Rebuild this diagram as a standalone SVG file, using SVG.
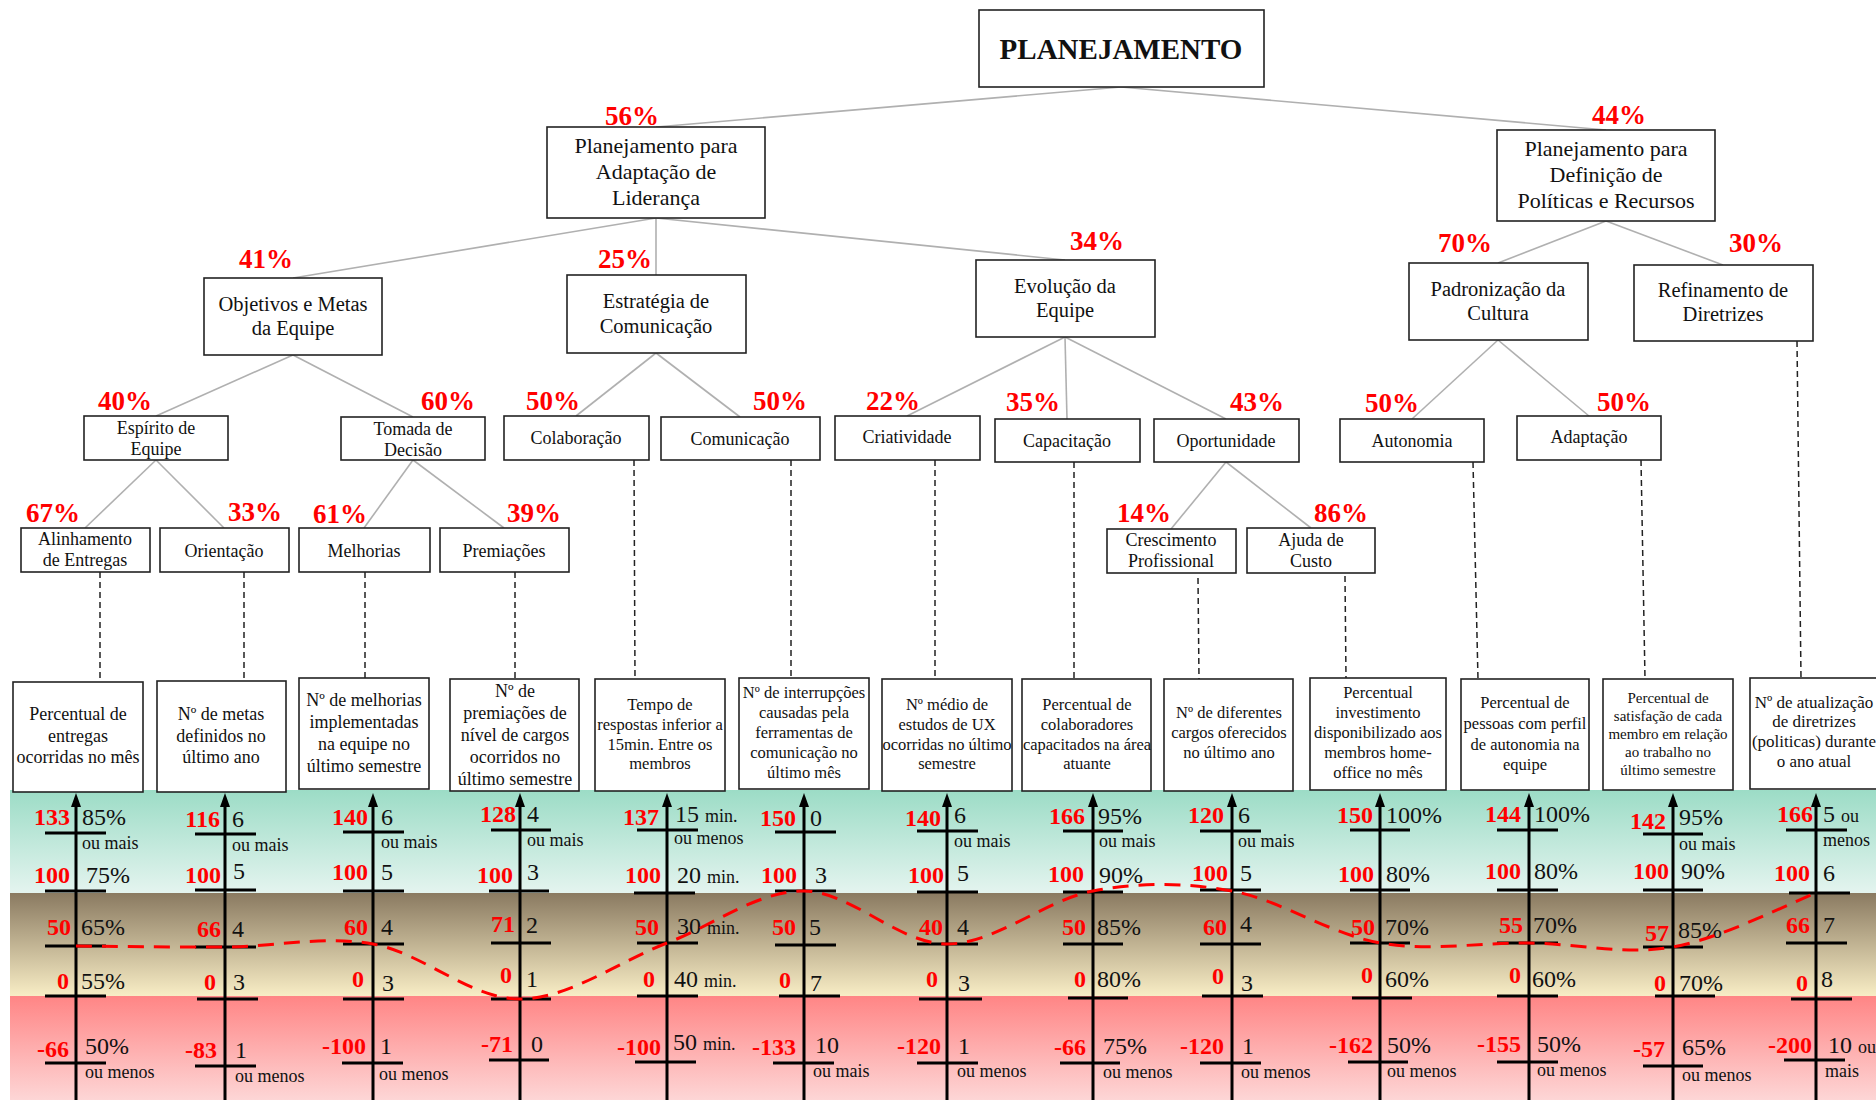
<svg xmlns="http://www.w3.org/2000/svg" width="1876" height="1100" viewBox="0 0 1876 1100">
<defs>
<linearGradient id="gG" x1="0" y1="0" x2="0" y2="1"><stop offset="0" stop-color="#9cdcc6"/><stop offset="1" stop-color="#e4f4ef"/></linearGradient>
<linearGradient id="gB" x1="0" y1="0" x2="0" y2="1"><stop offset="0" stop-color="#8a7a61"/><stop offset="1" stop-color="#f8edc5"/></linearGradient>
<linearGradient id="gR" x1="0" y1="0" x2="0" y2="1"><stop offset="0" stop-color="#ff8585"/><stop offset="1" stop-color="#fdd6d6"/></linearGradient>
<style>
.box{fill:#fff;stroke:#222;stroke-width:1.6}
.t{font-family:"Liberation Serif","Times New Roman",serif;fill:#111;text-anchor:middle}
.t22{font-size:22px}.t20{font-size:20.5px}.t18{font-size:18px}.t17{font-size:17px}.t16{font-size:16.5px}.t15{font-size:15px}
.pct{font-family:"Liberation Serif","Times New Roman",serif;font-weight:bold;fill:#ff0000;font-size:27px}
.conn line{stroke:#b0b0b0;stroke-width:1.6}
.conn .d{stroke:#222;stroke-width:1.5;stroke-dasharray:6 4}
.ax{stroke:#000;stroke-width:3}
.tk{stroke:#000;stroke-width:3}
.rv{font-family:"Liberation Serif","Times New Roman",serif;font-weight:bold;font-size:24px;fill:#ff0000;text-anchor:end}
.bv{font-family:"Liberation Serif","Times New Roman",serif;font-size:24px;fill:#111}
.sm{font-family:"Liberation Serif","Times New Roman",serif;font-size:18px;fill:#111}
.smi{font-size:18px}
</style>
</defs>
<rect x="0" y="0" width="1876" height="1100" fill="#fff"/>

<!-- bands -->
<g id="bands">
<rect x="10" y="790" width="1866" height="103" fill="url(#gG)"/>
<rect x="10" y="893" width="1866" height="103" fill="url(#gB)"/>
<rect x="10" y="996" width="1866" height="104" fill="url(#gR)"/>
</g>

<!-- connectors -->
<g id="connectors" class="conn">
<line x1="1121" y1="87" x2="656" y2="127"/>
<line x1="1121" y1="87" x2="1606" y2="130"/>
<line x1="656" y1="218" x2="293" y2="278"/>
<line x1="656" y1="218" x2="656" y2="275"/>
<line x1="656" y1="218" x2="1065" y2="260"/>
<line x1="1606" y1="221" x2="1498" y2="263"/>
<line x1="1606" y1="221" x2="1723" y2="265"/>
<line x1="293" y1="355" x2="156" y2="416"/>
<line x1="293" y1="355" x2="413" y2="417"/>
<line x1="656" y1="353" x2="576" y2="416"/>
<line x1="656" y1="353" x2="740" y2="417"/>
<line x1="1065" y1="337" x2="907" y2="416"/>
<line x1="1065" y1="337" x2="1067" y2="419"/>
<line x1="1065" y1="337" x2="1226" y2="419"/>
<line x1="1498" y1="340" x2="1412" y2="419"/>
<line x1="1498" y1="340" x2="1589" y2="416"/>
<line x1="156" y1="460" x2="85" y2="528"/>
<line x1="156" y1="460" x2="224" y2="528"/>
<line x1="413" y1="460" x2="364" y2="528"/>
<line x1="413" y1="460" x2="504" y2="528"/>
<line x1="1226" y1="462" x2="1171" y2="529"/>
<line x1="1226" y1="462" x2="1311" y2="528"/>
<line class="d" x1="100" y1="572" x2="100" y2="682"/>
<line class="d" x1="244" y1="572" x2="244" y2="681"/>
<line class="d" x1="365" y1="572" x2="365" y2="678"/>
<line class="d" x1="515" y1="572" x2="515" y2="679"/>
<line class="d" x1="634" y1="460" x2="635" y2="679"/>
<line class="d" x1="791" y1="460" x2="791" y2="678"/>
<line class="d" x1="935" y1="460" x2="935" y2="679"/>
<line class="d" x1="1074" y1="462" x2="1074" y2="679"/>
<line class="d" x1="1198" y1="578" x2="1199" y2="679"/>
<line class="d" x1="1345" y1="576" x2="1346" y2="678"/>
<line class="d" x1="1473" y1="462" x2="1478" y2="679"/>
<line class="d" x1="1641" y1="460" x2="1645" y2="679"/>
<line class="d" x1="1797" y1="341" x2="1801" y2="678"/>
</g>

<!-- tree nodes -->
<g id="n-planejamento"><rect class="box" x="979" y="10" width="285" height="77"/><text class="t" x="1121" y="59" font-size="29" font-weight="bold">PLANEJAMENTO</text></g>
<g id="n-lideranca"><text class="pct" x="605" y="125">56%</text><rect class="box" x="547" y="127" width="218" height="91"/><text class="t t22" x="656" y="153">Planejamento para</text><text class="t t22" x="656" y="179">Adaptação de</text><text class="t t22" x="656" y="205">Liderança</text></g>
<g id="n-politicas"><text class="pct" x="1592" y="124">44%</text><rect class="box" x="1497" y="130" width="218" height="91"/><text class="t t22" x="1606" y="156">Planejamento para</text><text class="t t22" x="1606" y="182">Definição de</text><text class="t t22" x="1606" y="208">Políticas e Recursos</text></g>
<g id="n-objetivos"><text class="pct" x="239" y="268">41%</text><rect class="box" x="204" y="278" width="178" height="77"/><text class="t t20" x="293" y="311">Objetivos e Metas</text><text class="t t20" x="293" y="335">da Equipe</text></g>
<g id="n-estrategia"><text class="pct" x="598" y="268">25%</text><rect class="box" x="567" y="275" width="179" height="78"/><text class="t t20" x="656" y="308">Estratégia de</text><text class="t t20" x="656" y="333">Comunicação</text></g>
<g id="n-evolucao"><text class="pct" x="1070" y="250">34%</text><rect class="box" x="976" y="260" width="179" height="77"/><text class="t t20" x="1065" y="293">Evolução da</text><text class="t t20" x="1065" y="317">Equipe</text></g>
<g id="n-padronizacao"><text class="pct" x="1438" y="252">70%</text><rect class="box" x="1409" y="263" width="179" height="77"/><text class="t t20" x="1498" y="296">Padronização da</text><text class="t t20" x="1498" y="320">Cultura</text></g>
<g id="n-refinamento"><text class="pct" x="1729" y="252">30%</text><rect class="box" x="1634" y="265" width="179" height="76"/><text class="t t20" x="1723" y="297">Refinamento de</text><text class="t t20" x="1723" y="321">Diretrizes</text></g>

<g id="n-espirito"><text class="pct" x="98" y="410">40%</text><rect class="box" x="84" y="416" width="144" height="44"/><text class="t t18" x="156" y="434">Espírito de</text><text class="t t18" x="156" y="455">Equipe</text></g>
<g id="n-tomada"><text class="pct" x="421" y="410">60%</text><rect class="box" x="341" y="417" width="144" height="43"/><text class="t t18" x="413" y="435">Tomada de</text><text class="t t18" x="413" y="456">Decisão</text></g>
<g id="n-colaboracao"><text class="pct" x="526" y="410">50%</text><rect class="box" x="504" y="416" width="145" height="44"/><text class="t t18" x="576" y="444">Colaboração</text></g>
<g id="n-comunicacao"><text class="pct" x="753" y="410">50%</text><rect class="box" x="661" y="417" width="159" height="43"/><text class="t t18" x="740" y="445">Comunicação</text></g>
<g id="n-criatividade"><text class="pct" x="866" y="410">22%</text><rect class="box" x="835" y="416" width="145" height="44"/><text class="t t18" x="907" y="443">Criatividade</text></g>
<g id="n-capacitacao"><text class="pct" x="1006" y="411">35%</text><rect class="box" x="995" y="419" width="145" height="43"/><text class="t t18" x="1067" y="447">Capacitação</text></g>
<g id="n-oportunidade"><text class="pct" x="1230" y="411">43%</text><rect class="box" x="1154" y="419" width="145" height="43"/><text class="t t18" x="1226" y="447">Oportunidade</text></g>
<g id="n-autonomia"><text class="pct" x="1365" y="412">50%</text><rect class="box" x="1340" y="419" width="144" height="43"/><text class="t t18" x="1412" y="447">Autonomia</text></g>
<g id="n-adaptacao"><text class="pct" x="1597" y="411">50%</text><rect class="box" x="1517" y="416" width="144" height="44"/><text class="t t18" x="1589" y="443">Adaptação</text></g>

<g id="n-alinhamento"><text class="pct" x="26" y="522">67%</text><rect class="box" x="21" y="528" width="129" height="44"/><text class="t t18" x="85" y="545">Alinhamento</text><text class="t t18" x="85" y="566">de Entregas</text></g>
<g id="n-orientacao"><text class="pct" x="228" y="521">33%</text><rect class="box" x="160" y="528" width="129" height="44"/><text class="t t18" x="224" y="557">Orientação</text></g>
<g id="n-melhorias"><text class="pct" x="313" y="523">61%</text><rect class="box" x="299" y="528" width="131" height="44"/><text class="t t18" x="364" y="557">Melhorias</text></g>
<g id="n-premiacoes"><text class="pct" x="507" y="522">39%</text><rect class="box" x="440" y="528" width="129" height="44"/><text class="t t18" x="504" y="557">Premiações</text></g>
<g id="n-crescimento"><text class="pct" x="1117" y="522">14%</text><rect class="box" x="1107" y="529" width="129" height="44"/><text class="t t18" x="1171" y="546">Crescimento</text><text class="t t18" x="1171" y="567">Profissional</text></g>
<g id="n-ajuda"><text class="pct" x="1314" y="522">86%</text><rect class="box" x="1247" y="528" width="128" height="45"/><text class="t t18" x="1311" y="546">Ajuda de</text><text class="t t18" x="1311" y="567">Custo</text></g>

<!-- indicator boxes -->
<g id="i1"><rect class="box" x="13" y="682" width="130" height="110"/><text class="t t18" x="78" y="720">Percentual de</text><text class="t t18" x="78" y="742">entregas</text><text class="t t18" x="78" y="763">ocorridas no mês</text></g>
<g id="i2"><rect class="box" x="157" y="681" width="129" height="111"/><text class="t t18" x="221" y="720">Nº de metas</text><text class="t t18" x="221" y="742">definidos no</text><text class="t t18" x="221" y="763">último ano</text></g>
<g id="i3"><rect class="box" x="299" y="678" width="130" height="111"/><text class="t t18" x="364" y="706">Nº de melhorias</text><text class="t t18" x="364" y="728">implementadas</text><text class="t t18" x="364" y="750">na equipe no</text><text class="t t18" x="364" y="772">último semestre</text></g>
<g id="i4"><rect class="box" x="450" y="679" width="129" height="112"/><text class="t t18" x="515" y="697">Nº de</text><text class="t t18" x="515" y="719">premiações de</text><text class="t t18" x="515" y="741">nível de cargos</text><text class="t t18" x="515" y="763">ocorridos no</text><text class="t t18" x="515" y="785">último semestre</text></g>
<g id="i5"><rect class="box" x="595" y="679" width="130" height="112"/><text class="t t16" x="660" y="710">Tempo de</text><text class="t t16" x="660" y="730">respostas inferior a</text><text class="t t16" x="660" y="750">15min. Entre os</text><text class="t t16" x="660" y="769">membros</text></g>
<g id="i6"><rect class="box" x="739" y="678" width="130" height="111"/><text class="t t16" x="804" y="698">Nº de interrupções</text><text class="t t16" x="804" y="718">causadas pela</text><text class="t t16" x="804" y="738">ferramentas de</text><text class="t t16" x="804" y="758">comunicação no</text><text class="t t16" x="804" y="778">último mês</text></g>
<g id="i7"><rect class="box" x="882" y="679" width="130" height="112"/><text class="t t16" x="947" y="710">Nº médio de</text><text class="t t16" x="947" y="730">estudos de UX</text><text class="t t16" x="947" y="750">ocorridas no último</text><text class="t t16" x="947" y="769">semestre</text></g>
<g id="i8"><rect class="box" x="1022" y="679" width="129" height="112"/><text class="t t16" x="1087" y="710">Percentual de</text><text class="t t16" x="1087" y="730">colaboradores</text><text class="t t16" x="1087" y="750">capacitados na área</text><text class="t t16" x="1087" y="769">atuante</text></g>
<g id="i9"><rect class="box" x="1164" y="679" width="129" height="112"/><text class="t t16" x="1229" y="718">Nº de diferentes</text><text class="t t16" x="1229" y="738">cargos oferecidos</text><text class="t t16" x="1229" y="758">no último ano</text></g>
<g id="i10"><rect class="box" x="1310" y="678" width="136" height="112"/><text class="t t16" x="1378" y="698">Percentual</text><text class="t t16" x="1378" y="718">investimento</text><text class="t t16" x="1378" y="738">disponibilizado aos</text><text class="t t16" x="1378" y="758">membros home-</text><text class="t t16" x="1378" y="778">office no mês</text></g>
<g id="i11"><rect class="box" x="1461" y="679" width="128" height="111"/><text class="t t16" x="1525" y="708">Percentual de</text><text class="t t16" x="1525" y="729">pessoas com perfil</text><text class="t t16" x="1525" y="750">de autonomia na</text><text class="t t16" x="1525" y="770">equipe</text></g>
<g id="i12"><rect class="box" x="1603" y="679" width="130" height="111"/><text class="t t15" x="1668" y="703">Percentual  de</text><text class="t t15" x="1668" y="721">satisfação  de cada</text><text class="t t15" x="1668" y="739">membro em relação</text><text class="t t15" x="1668" y="757">ao trabalho no</text><text class="t t15" x="1668" y="775">último semestre</text></g>
<g id="i13"><rect class="box" x="1750" y="678" width="132" height="111"/><text class="t t17" x="1814" y="708">Nº de atualização</text><text class="t t17" x="1814" y="727">de diretrizes</text><text class="t t17" x="1814" y="747">(politicas) durante</text><text class="t t17" x="1814" y="767">o ano atual</text></g>

<!-- gauges -->
<g id="g1" transform="translate(76,0)">
<line class="ax" x1="0" y1="804" x2="0" y2="1100"/><path d="M0,793 L-5,807 L5,807 Z"/>
<line class="tk" x1="-31" y1="833" x2="30" y2="833"/><line class="tk" x1="-31" y1="891" x2="30" y2="891"/><line class="tk" x1="-31" y1="946" x2="30" y2="946"/><line class="tk" x1="-31" y1="996" x2="30" y2="996"/><line class="tk" x1="-31" y1="1063" x2="30" y2="1063"/>
<text class="rv" x="-6" y="825">133</text><text class="bv" x="6" y="825">85%</text><text class="sm" x="6" y="849">ou mais</text>
<text class="rv" x="-6" y="883">100</text><text class="bv" x="10" y="883">75%</text>
<text class="rv" x="-5" y="935">50</text><text class="bv" x="5" y="935">65%</text>
<text class="rv" x="-7" y="989">0</text><text class="bv" x="5" y="989">55%</text>
<text class="rv" x="-7" y="1057">-66</text><text class="bv" x="9" y="1054">50%</text><text class="sm" x="9" y="1078">ou menos</text>
</g>
<g id="g2" transform="translate(225,0)">
<line class="ax" x1="0" y1="804" x2="0" y2="1100"/><path d="M0,793 L-5,807 L5,807 Z"/>
<line class="tk" x1="-30" y1="834" x2="31" y2="834"/><line class="tk" x1="-30" y1="890" x2="31" y2="890"/><line class="tk" x1="-30" y1="947" x2="31" y2="947"/><line class="tk" x1="-28" y1="999" x2="33" y2="999"/><line class="tk" x1="-30" y1="1066" x2="31" y2="1066"/>
<text class="rv" x="-5" y="827">116</text><text class="bv" x="7" y="827">6</text><text class="sm" x="7" y="851">ou mais</text>
<text class="rv" x="-4" y="883">100</text><text class="bv" x="8" y="879">5</text>
<text class="rv" x="-4" y="937">66</text><text class="bv" x="7" y="937">4</text>
<text class="rv" x="-9" y="990">0</text><text class="bv" x="8" y="990">3</text>
<text class="rv" x="-8" y="1058">-83</text><text class="bv" x="10" y="1058">1</text><text class="sm" x="10" y="1082">ou menos</text>
</g>
<g id="g3" transform="translate(373,0)">
<line class="ax" x1="0" y1="804" x2="0" y2="1100"/><path d="M0,793 L-5,807 L5,807 Z"/>
<line class="tk" x1="-30" y1="832" x2="31" y2="832"/><line class="tk" x1="-30" y1="891" x2="31" y2="891"/><line class="tk" x1="-30" y1="944" x2="31" y2="944"/><line class="tk" x1="-30" y1="999" x2="31" y2="999"/><line class="tk" x1="-31" y1="1063" x2="30" y2="1063"/>
<text class="rv" x="-5" y="825">140</text><text class="bv" x="8" y="825">6</text><text class="sm" x="8" y="848">ou mais</text>
<text class="rv" x="-5" y="880">100</text><text class="bv" x="8" y="880">5</text>
<text class="rv" x="-5" y="935">60</text><text class="bv" x="8" y="935">4</text>
<text class="rv" x="-9" y="987">0</text><text class="bv" x="9" y="991">3</text>
<text class="rv" x="-7" y="1054">-100</text><text class="bv" x="7" y="1054">1</text><text class="sm" x="6" y="1080">ou menos</text>
</g>
<g id="g4" transform="translate(520,0)">
<line class="ax" x1="0" y1="804" x2="0" y2="1100"/><path d="M0,793 L-5,807 L5,807 Z"/>
<line class="tk" x1="-29" y1="830" x2="31" y2="830"/><line class="tk" x1="-31" y1="891" x2="29" y2="891"/><line class="tk" x1="-29" y1="943" x2="31" y2="943"/><line class="tk" x1="-29" y1="999" x2="31" y2="999"/><line class="tk" x1="-31" y1="1060" x2="29" y2="1060"/>
<text class="rv" x="-4" y="822">128</text><text class="bv" x="7" y="822">4</text><text class="sm" x="7" y="846">ou mais</text>
<text class="rv" x="-7" y="883">100</text><text class="bv" x="7" y="880">3</text>
<text class="rv" x="-5" y="932">71</text><text class="bv" x="6" y="933">2</text>
<text class="rv" x="-8" y="983">0</text><text class="bv" x="6" y="987">1</text>
<text class="rv" x="-7" y="1052">-71</text><text class="bv" x="11" y="1052">0</text>
</g>
<g id="g5" transform="translate(667,0)">
<line class="ax" x1="0" y1="804" x2="0" y2="1100"/><path d="M0,793 L-5,807 L5,807 Z"/>
<line class="tk" x1="-30" y1="830" x2="31" y2="830"/><line class="tk" x1="-33" y1="893" x2="28" y2="893"/><line class="tk" x1="-30" y1="943" x2="31" y2="943"/><line class="tk" x1="-30" y1="996" x2="31" y2="996"/><line class="tk" x1="-32" y1="1062" x2="29" y2="1062"/>
<text class="rv" x="-8" y="825">137</text><text class="bv" x="8" y="822">15 <tspan class="smi">min.</tspan></text><text class="sm" x="7" y="844">ou menos</text>
<text class="rv" x="-6" y="883">100</text><text class="bv" x="10" y="883">20 <tspan class="smi">min.</tspan></text>
<text class="rv" x="-8" y="935">50</text><text class="bv" x="10" y="934">30 <tspan class="smi">min.</tspan></text>
<text class="rv" x="-12" y="987">0</text><text class="bv" x="7" y="987">40 <tspan class="smi">min.</tspan></text>
<text class="rv" x="-6" y="1055">-100</text><text class="bv" x="6" y="1050">50 <tspan class="smi">min.</tspan></text>
</g>
<g id="g6" transform="translate(804,0)">
<line class="ax" x1="0" y1="804" x2="0" y2="1100"/><path d="M0,793 L-5,807 L5,807 Z"/>
<line class="tk" x1="-29" y1="832" x2="32" y2="832"/><line class="tk" x1="-29" y1="891" x2="32" y2="891"/><line class="tk" x1="-29" y1="945" x2="32" y2="945"/><line class="tk" x1="-25" y1="996" x2="36" y2="996"/><line class="tk" x1="-31" y1="1063" x2="30" y2="1063"/>
<text class="rv" x="-8" y="826">150</text><text class="bv" x="6" y="826">0</text>
<text class="rv" x="-7" y="883">100</text><text class="bv" x="11" y="883">3</text>
<text class="rv" x="-8" y="935">50</text><text class="bv" x="5" y="935">5</text>
<text class="rv" x="-13" y="988">0</text><text class="bv" x="6" y="991">7</text>
<text class="rv" x="-8" y="1055">-133</text><text class="bv" x="11" y="1053">10</text><text class="sm" x="9" y="1077">ou mais</text>
</g>
<g id="g7" transform="translate(947,0)">
<line class="ax" x1="0" y1="804" x2="0" y2="1100"/><path d="M0,793 L-5,807 L5,807 Z"/>
<line class="tk" x1="-30" y1="831" x2="31" y2="831"/><line class="tk" x1="-30" y1="892" x2="31" y2="892"/><line class="tk" x1="-30" y1="944" x2="31" y2="944"/><line class="tk" x1="-28" y1="999" x2="35" y2="999"/><line class="tk" x1="-30" y1="1063" x2="31" y2="1063"/>
<text class="rv" x="-6" y="826">140</text><text class="bv" x="7" y="823">6</text><text class="sm" x="7" y="847">ou mais</text>
<text class="rv" x="-3" y="883">100</text><text class="bv" x="10" y="881">5</text>
<text class="rv" x="-4" y="935">40</text><text class="bv" x="10" y="935">4</text>
<text class="rv" x="-9" y="987">0</text><text class="bv" x="11" y="991">3</text>
<text class="rv" x="-6" y="1054">-120</text><text class="bv" x="11" y="1054">1</text><text class="sm" x="10" y="1077">ou menos</text>
</g>
<g id="g8" transform="translate(1093,0)">
<line class="ax" x1="0" y1="804" x2="0" y2="1100"/><path d="M0,793 L-5,807 L5,807 Z"/>
<line class="tk" x1="-30" y1="831" x2="30" y2="831"/><line class="tk" x1="-30" y1="892" x2="30" y2="892"/><line class="tk" x1="-30" y1="944" x2="30" y2="944"/><line class="tk" x1="-25" y1="998" x2="35" y2="998"/><line class="tk" x1="-33" y1="1063" x2="27" y2="1063"/>
<text class="rv" x="-8" y="824">166</text><text class="bv" x="5" y="824">95%</text><text class="sm" x="6" y="847">ou mais</text>
<text class="rv" x="-9" y="882">100</text><text class="bv" x="6" y="883">90%</text>
<text class="rv" x="-7" y="935">50</text><text class="bv" x="4" y="935">85%</text>
<text class="rv" x="-7" y="987">0</text><text class="bv" x="4" y="987">80%</text>
<text class="rv" x="-7" y="1055">-66</text><text class="bv" x="10" y="1054">75%</text><text class="sm" x="10" y="1078">ou menos</text>
</g>
<g id="g9" transform="translate(1232,0)">
<line class="ax" x1="0" y1="804" x2="0" y2="1100"/><path d="M0,793 L-5,807 L5,807 Z"/>
<line class="tk" x1="-32" y1="831" x2="29" y2="831"/><line class="tk" x1="-32" y1="890" x2="29" y2="890"/><line class="tk" x1="-32" y1="944" x2="29" y2="944"/><line class="tk" x1="-30" y1="996" x2="31" y2="996"/><line class="tk" x1="-32" y1="1063" x2="29" y2="1063"/>
<text class="rv" x="-8" y="823">120</text><text class="bv" x="6" y="823">6</text><text class="sm" x="6" y="847">ou mais</text>
<text class="rv" x="-4" y="881">100</text><text class="bv" x="8" y="881">5</text>
<text class="rv" x="-5" y="935">60</text><text class="bv" x="8" y="932">4</text>
<text class="rv" x="-8" y="984">0</text><text class="bv" x="9" y="991">3</text>
<text class="rv" x="-8" y="1054">-120</text><text class="bv" x="10" y="1054">1</text><text class="sm" x="9" y="1078">ou menos</text>
</g>
<g id="g10" transform="translate(1380,0)">
<line class="ax" x1="0" y1="804" x2="0" y2="1100"/><path d="M0,793 L-5,807 L5,807 Z"/>
<line class="tk" x1="-30" y1="830" x2="30" y2="830"/><line class="tk" x1="-30" y1="890" x2="30" y2="890"/><line class="tk" x1="-30" y1="943" x2="30" y2="943"/><line class="tk" x1="-28" y1="998" x2="32" y2="998"/><line class="tk" x1="-32" y1="1062" x2="28" y2="1062"/>
<text class="rv" x="-7" y="823">150</text><text class="bv" x="6" y="823">100%</text>
<text class="rv" x="-6" y="882">100</text><text class="bv" x="6" y="882">80%</text>
<text class="rv" x="-5" y="935">50</text><text class="bv" x="5" y="935">70%</text>
<text class="rv" x="-7" y="983">0</text><text class="bv" x="5" y="987">60%</text>
<text class="rv" x="-7" y="1053">-162</text><text class="bv" x="7" y="1053">50%</text><text class="sm" x="7" y="1077">ou menos</text>
</g>
<g id="g11" transform="translate(1529,0)">
<line class="ax" x1="0" y1="804" x2="0" y2="1100"/><path d="M0,793 L-5,807 L5,807 Z"/>
<line class="tk" x1="-32" y1="830" x2="29" y2="830"/><line class="tk" x1="-32" y1="890" x2="29" y2="890"/><line class="tk" x1="-32" y1="943" x2="29" y2="943"/><line class="tk" x1="-32" y1="996" x2="29" y2="996"/><line class="tk" x1="-32" y1="1062" x2="29" y2="1062"/>
<text class="rv" x="-8" y="822">144</text><text class="bv" x="5" y="822">100%</text>
<text class="rv" x="-8" y="879">100</text><text class="bv" x="5" y="879">80%</text>
<text class="rv" x="-6" y="933">55</text><text class="bv" x="4" y="933">70%</text>
<text class="rv" x="-8" y="983">0</text><text class="bv" x="3" y="987">60%</text>
<text class="rv" x="-8" y="1052">-155</text><text class="bv" x="8" y="1052">50%</text><text class="sm" x="8" y="1076">ou menos</text>
</g>
<g id="g12" transform="translate(1673,0)">
<line class="ax" x1="0" y1="804" x2="0" y2="1100"/><path d="M0,793 L-5,807 L5,807 Z"/>
<line class="tk" x1="-30" y1="834" x2="30" y2="834"/><line class="tk" x1="-30" y1="890" x2="30" y2="890"/><line class="tk" x1="-30" y1="947" x2="30" y2="947"/><line class="tk" x1="-18" y1="996" x2="42" y2="996"/><line class="tk" x1="-30" y1="1066" x2="30" y2="1066"/>
<text class="rv" x="-7" y="829">142</text><text class="bv" x="6" y="825">95%</text><text class="sm" x="6" y="850">ou mais</text>
<text class="rv" x="-4" y="879">100</text><text class="bv" x="8" y="879">90%</text>
<text class="rv" x="-4" y="941">57</text><text class="bv" x="5" y="938">85%</text>
<text class="rv" x="-7" y="991">0</text><text class="bv" x="6" y="991">70%</text>
<text class="rv" x="-8" y="1057">-57</text><text class="bv" x="9" y="1055">65%</text><text class="sm" x="9" y="1081">ou menos</text>
</g>
<g id="g13" transform="translate(1816,0)">
<line class="ax" x1="0" y1="804" x2="0" y2="1100"/><path d="M0,793 L-5,807 L5,807 Z"/>
<line class="tk" x1="-30" y1="830" x2="31" y2="830"/><line class="tk" x1="-27" y1="893" x2="34" y2="893"/><line class="tk" x1="-30" y1="943" x2="31" y2="943"/><line class="tk" x1="-25" y1="999" x2="36" y2="999"/><line class="tk" x1="-32" y1="1060" x2="29" y2="1060"/>
<text class="rv" x="-3" y="822">166</text><text class="bv" x="7" y="822">5 <tspan class="smi">ou</tspan></text><text class="sm" x="7" y="846">menos</text>
<text class="rv" x="-6" y="881">100</text><text class="bv" x="7" y="881">6</text>
<text class="rv" x="-6" y="933">66</text><text class="bv" x="7" y="933">7</text>
<text class="rv" x="-8" y="991">0</text><text class="bv" x="5" y="987">8</text>
<text class="rv" x="-4" y="1053">-200</text><text class="bv" x="12" y="1053">10 <tspan class="smi">ou</tspan></text><text class="sm" x="9" y="1077">mais</text>
</g>

<!-- result curve -->
<path id="curve" fill="none" stroke="#ff0000" stroke-width="3" stroke-dasharray="16 10" d="M76,946 C100.8,946.2 175.5,947.3 225,947 C274.5,946.7 323.8,935.3 373,944 C422.2,952.7 471,999.2 520,999 C569,998.8 619.7,961 667,943 C714.3,925 757.3,890.8 804,891 C850.7,891.2 898.8,944 947,944 C995.2,944 1045.5,899.8 1093,891 C1140.5,882.2 1184.2,882.3 1232,891 C1279.8,899.7 1330.5,934.3 1380,943 C1429.5,951.7 1480.2,942.3 1529,943 C1577.8,943.7 1625.2,955.3 1673,947 C1720.8,938.7 1792.2,902 1816,893"/>
</svg>
